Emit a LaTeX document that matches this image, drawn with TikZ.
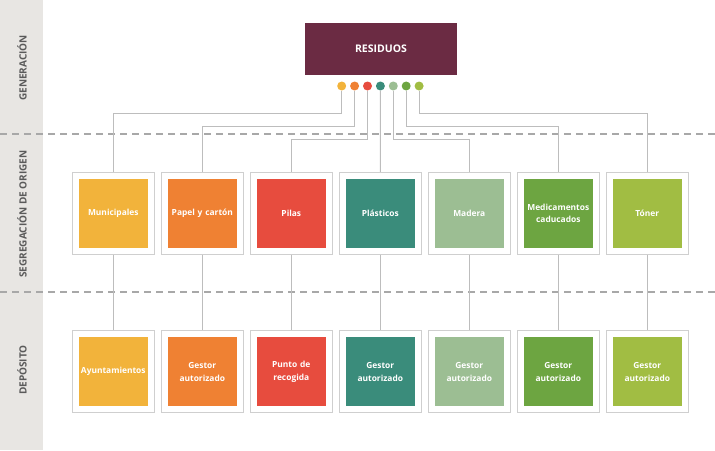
\documentclass[tikz,border=0pt]{standalone}
\usepackage{fontspec}
\setmainfont{Open Sans}
\usetikzlibrary{positioning}

\definecolor{bandgrey}{HTML}{E8E6E3}
\definecolor{bandtext}{HTML}{5A5A5A}
\definecolor{dashgrey}{HTML}{A8A8A8}
\definecolor{linegrey}{HTML}{BDBDBD}
\definecolor{framegrey}{HTML}{CFCFCF}
\definecolor{cRes}{HTML}{6B2B43}
\definecolor{cMun}{HTML}{F2B33B}
\definecolor{cPap}{HTML}{EF8133}
\definecolor{cPil}{HTML}{E74C3E}
\definecolor{cPla}{HTML}{3A8C7B}
\definecolor{cMad}{HTML}{9CBE93}
\definecolor{cMed}{HTML}{6DA541}
\definecolor{cTon}{HTML}{A1BD43}

\begin{document}
\begin{tikzpicture}[x=1pt, y=-1pt,
    link/.style={draw=linegrey, line width=0.9pt},
    sep/.style={draw=dashgrey, line width=1.2pt, dash pattern=on 7pt off 5pt},
    frame/.style={draw=framegrey, line width=0.8pt, fill=white, minimum size=82pt, inner sep=0pt},
    cell/.style={minimum size=69pt, text width=66pt, align=center, inner sep=0pt, text=white,
        font=\bfseries\fontsize{8.4}{12.6}\selectfont},
    dot/.style={circle, minimum size=9pt, inner sep=0pt},
    band/.style={rotate=90, text=bandtext, font=\bfseries\fontsize{10}{12}\selectfont}]

        % Background and side band
        \useasboundingbox (0,0) rectangle (715,450);
        \fill[bandgrey] (0,0) rectangle (43,450);
        \node[band] (lgen) at (22,68) {GENERACIÓN};
        \node[band] (lseg) at (22,214) {SEGREGACIÓN DE ORIGEN};
        \node[band] (ldep) at (22,370) {DEPÓSITO};

        % Stage separators
        \draw[sep] (0,134) -- (715,134);
        \draw[sep] (0,292) -- (715,292);

        % Source box and dots
        \node[fill=cRes, minimum width=152pt, minimum height=52pt, text=white,
            font=\bfseries\fontsize{10.5}{12}\selectfont] (res) at (381,49) {RESIDUOS};
        \node[dot, fill=cMun] (d1) at (341.7,86) {};
        \node[dot, fill=cPap] (d2) at (354.6,86) {};
        \node[dot, fill=cPil] (d3) at (367.5,86) {};
        \node[dot, fill=cPla] (d4) at (380.4,86) {};
        \node[dot, fill=cMad] (d5) at (393.3,86) {};
        \node[dot, fill=cMed] (d6) at (406.2,86) {};
        \node[dot, fill=cTon] (d7) at (419.1,86) {};

        % Segregation row
        \node[frame] (s1) at (113.3,213.3) {};
        \node[frame, right=6.2pt of s1] (s2) {};
        \node[frame, right=6.2pt of s2] (s3) {};
        \node[frame, right=6.2pt of s3] (s4) {};
        \node[frame, right=6.2pt of s4] (s5) {};
        \node[frame, right=6.2pt of s5] (s6) {};
        \node[frame, right=6.2pt of s6] (s7) {};
        \node[cell, fill=cMun] (c1) at (s1) {Municipales};
        \node[cell, fill=cPap] (c2) at (s2) {Papel y cartón};
        \node[cell, fill=cPil] (c3) at (s3) {Pilas};
        \node[cell, fill=cPla] (c4) at (s4) {Plásticos};
        \node[cell, fill=cMad] (c5) at (s5) {Madera};
        \node[cell, fill=cMed] (c6) at (s6) {Medicamentos\\caducados};
        \node[cell, fill=cTon] (c7) at (s7) {Tóner};

        % Deposit row
        \node[frame, below=75.6pt of s1] (t1) {};
        \node[frame, below=75.6pt of s2] (t2) {};
        \node[frame, below=75.6pt of s3] (t3) {};
        \node[frame, below=75.6pt of s4] (t4) {};
        \node[frame, below=75.6pt of s5] (t5) {};
        \node[frame, below=75.6pt of s6] (t6) {};
        \node[frame, below=75.6pt of s7] (t7) {};
        \node[cell, fill=cMun] (e1) at (t1) {Ayuntamientos};
        \node[cell, fill=cPap] (e2) at (t2) {Gestor\\autorizado};
        \node[cell, fill=cPil] (e3) at (t3) {Punto de\\recogida};
        \node[cell, fill=cPla] (e4) at (t4) {Gestor\\autorizado};
        \node[cell, fill=cMad] (e5) at (t5) {Gestor\\autorizado};
        \node[cell, fill=cMed] (e6) at (t6) {Gestor\\autorizado};
        \node[cell, fill=cTon] (e7) at (t7) {Gestor\\autorizado};

        % Connectors from dots
        \draw[link] (d1) |- (s1.north |- 0,113) -- (s1.north);
        \draw[link] (d2) |- (s2.north |- 0,126) -- (s2.north);
        \draw[link] (d3) |- (s3.north |- 0,139) -- (s3.north);
        \draw[link] (d4) -- (s4.north);
        \draw[link] (d5) |- (s5.north |- 0,139) -- (s5.north);
        \draw[link] (d6) |- (s6.north |- 0,126) -- (s6.north);
        \draw[link] (d7) |- (s7.north |- 0,113) -- (s7.north);

        % Connectors between rows
        \draw[link] (s1) -- (t1);
        \draw[link] (s2) -- (t2);
        \draw[link] (s3) -- (t3);
        \draw[link] (s4) -- (t4);
        \draw[link] (s5) -- (t5);
        \draw[link] (s6) -- (t6);
        \draw[link] (s7) -- (t7);

    \end{tikzpicture}
\end{document}
